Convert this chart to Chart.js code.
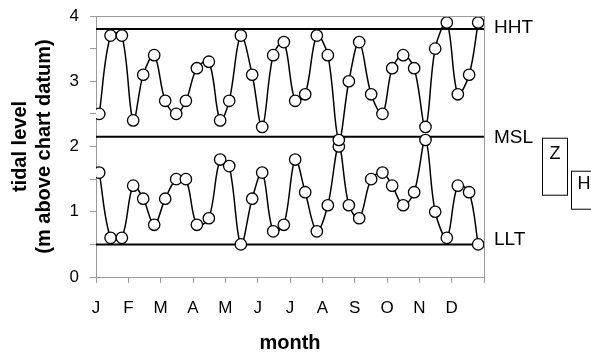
<!DOCTYPE html>
<html><head><meta charset="utf-8">
<script src="https://cdn.jsdelivr.net/npm/chart.js@4"></script>
<style>html,body{margin:0;padding:0;background:#fff;overflow:hidden}#wrap{width:591px;height:355px;position:relative}</style>
</head><body><div id="wrap"><canvas id="c" width="591" height="355"></canvas></div>
<script>
const monthLabels = ['J','F','M','A','M','J','J','A','S','O','N','D'];
const sampleMonths = [0.10,0.45,0.80,1.15,1.46,1.80,2.14,2.48,2.78,3.12,3.49,3.84,4.12,4.48,4.83,5.14,5.48,5.81,6.16,6.47,6.83,7.17,7.51,7.82,8.14,8.51,8.86,9.16,9.50,9.84,10.19,10.49,10.85,11.19,11.54,11.82];
const highWaterLevels = [2.5,3.7,3.7,2.4,3.1,3.4,2.7,2.5,2.7,3.2,3.3,2.4,2.7,3.7,3.1,2.3,3.4,3.6,2.7,2.8,3.7,3.4,2.1,3.0,3.6,2.8,2.5,3.2,3.4,3.2,2.3,3.5,3.9,2.8,3.1,3.9];
const lowWaterLevels = [1.6,0.6,0.6,1.4,1.2,0.8,1.2,1.5,1.5,0.8,0.9,1.8,1.7,0.5,1.2,1.6,0.7,0.8,1.8,1.3,0.7,1.1,2.0,1.1,0.9,1.5,1.6,1.4,1.1,1.3,2.1,1.0,0.6,1.4,1.3,0.5];
const referenceNames = ['HHT','MSL','LLT'];
const referenceLevels = [3.8, 2.15, 0.5];
const yTickValues = [0,1,2,3,4];
const yTitle = ['tidal level','(m above chart datum)'];
const xTitle = 'month';
const boxLetters = ['Z','H'];

const FONT = "'Liberation Sans', Arial, Helvetica, sans-serif";
const GRAY = '#9a9a9a';

function seriesPoints(levels){ return levels.map((v,i)=>({x: sampleMonths[i], y: v})); }
function refPoints(v){ return [{x:0,y:v},{x:12,y:v}]; }

const pointStyle = {
  borderColor:'#000', borderWidth:1.5, tension:0.35,
  pointRadius:5.7, pointHoverRadius:5.7, pointBackgroundColor:'#fff',
  pointBorderColor:'#000', pointBorderWidth:1.3, fill:false
};

const datasets = [
  Object.assign({label:'high', data: seriesPoints(highWaterLevels)}, pointStyle),
  Object.assign({label:'low', data: seriesPoints(lowWaterLevels)}, pointStyle)
];
referenceLevels.forEach((v,i)=>{
  datasets.push({label:referenceNames[i], data: refPoints(v), borderColor:'#000', borderWidth:2, pointRadius:0, tension:0, fill:false});
});

const decor = {
  id:'decor',
  afterDraw(chart){
    const {ctx, chartArea:a, scales:{y}} = chart;
    ctx.save();
    ctx.strokeStyle = GRAY; ctx.lineWidth = 1;
    ctx.beginPath();
    ctx.moveTo(a.left, a.top+0.5); ctx.lineTo(a.right+0.5, a.top+0.5);
    ctx.moveTo(a.right+0.5, a.top); ctx.lineTo(a.right+0.5, a.bottom);
    ctx.stroke();
    ctx.fillStyle = '#000';
    ctx.font = '19px ' + FONT;
    ctx.textAlign = 'left'; ctx.textBaseline = 'middle';
    const offs = [-1, 1, -5];
    referenceLevels.forEach((v,i)=>{
      ctx.fillText(referenceNames[i], a.right + 10, y.getPixelForValue(v) + offs[i]);
    });
    const msl = y.getPixelForValue(referenceLevels[1]);
    ctx.strokeStyle = '#000'; ctx.lineWidth = 1;
    ctx.strokeRect(a.right + 58.5, msl + 1.5, 25, 57);
    ctx.strokeRect(a.right + 87.5, msl + 34.5, 30, 38);
    ctx.font = '18px ' + FONT; ctx.textAlign = 'center';
    ctx.fillText(boxLetters[0], a.right + 71, msl + 17);
    ctx.fillText(boxLetters[1], a.right + 100, msl + 47);
    ctx.restore();
  }
};

new Chart(document.getElementById('c'), {
  type:'line',
  data:{datasets},
  options:{
    responsive:false, animation:false, devicePixelRatio:1,
    layout:{padding:{left:0,right:107,top:16,bottom:0}},
    plugins:{legend:{display:false}, tooltip:{enabled:false}},
    scales:{
      x:{
        type:'linear', min:0, max:12,
        afterFit(s){ s.height = 78; s.paddingLeft = 0; s.paddingRight = 0; },
        afterBuildTicks(s){ s.ticks = monthLabels.map((m,i)=>({value:i})).concat([{value:12}]); },
        ticks:{ padding:15, color:'#000', font:{family:FONT, size:17}, maxRotation:0, autoSkip:false,
          callback:(v)=> monthLabels[v] !== undefined ? monthLabels[v] : '' },
        grid:{ display:true, drawOnChartArea:false, drawTicks:true, tickLength:6, color:GRAY, lineWidth:1 },
        border:{ display:true, color:GRAY, width:1 },
        title:{ display:true, text:xTitle, color:'#000', font:{family:FONT, size:20, weight:'bold'}, padding:{top:0,bottom:0} }
      },
      y:{
        min:0, max:4,
        afterFit(s){ s.width = 96; s.paddingTop = 0; s.paddingBottom = 0; },
        ticks:{ stepSize:0.25, padding:11, color:'#000', font:{family:FONT, size:17},
          callback:(v)=> yTickValues.includes(v) ? String(v) : '' },
        grid:{ display:true, drawOnChartArea:false, drawTicks:true, tickLength:6, color:GRAY, lineWidth:1 },
        border:{ display:true, color:GRAY, width:1 },
        title:{ display:true, text:yTitle, color:'#000', font:{family:FONT, size:20, weight:'bold', lineHeight:1.2}, padding:{top:8,bottom:0} }
      }
    }
  },
  plugins:[decor]
});
</script></body></html>
